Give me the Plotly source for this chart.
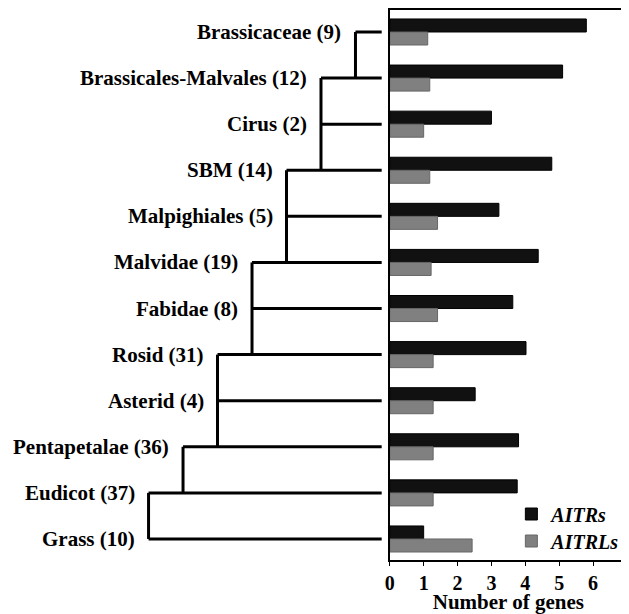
import plotly.graph_objects as go

categories = ["Brassicaceae", "Brassicales-Malvales", "Cirus", "SBM", "Malpighiales",
              "Malvidae", "Fabidae", "Rosid", "Asterid", "Pentapetalae", "Eudicot", "Grass"]
counts = [9, 12, 2, 14, 5, 19, 8, 31, 4, 36, 37, 10]
aitrs = [5.8, 5.1, 3.0, 4.78, 3.22, 4.38, 3.63, 4.02, 2.52, 3.8, 3.76, 1.0]
aitrls = [1.12, 1.18, 1.0, 1.18, 1.41, 1.22, 1.41, 1.28, 1.28, 1.28, 1.28, 2.43]
# tree: level where each leaf's horizontal branch starts, and vertical joins (level, from row, to row)
leaf_level = [6, 5, 5, 4, 4, 3, 3, 2, 2, 1, 0, 0]
joins = [(6, 0, 1), (5, 1, 3), (4, 3, 5), (3, 5, 7), (2, 7, 9), (1, 9, 10), (0, 10, 11)]
TIP = 6.76
x_ticks = [0, 1, 2, 3, 4, 5, 6, 7]

OFF = 8  # page body margin
W, H = 629 - OFF, 614 - OFF
FONT = "Liberation Serif"


def fx(X):
    return (X - OFF) / W


def fy(Y):
    return (H - (Y - OFF)) / H


fig = go.Figure()
fig.add_trace(go.Bar(y=categories, x=aitrs, orientation="h", name="<b><i>AITRs</i></b>",
                     legend="legend",
                     marker=dict(color="#111111", line=dict(color="#000000", width=1))))
fig.add_trace(go.Bar(y=categories, x=aitrls, orientation="h", name="<b><i>AITRLs</i></b>",
                     legend="legend2",
                     marker=dict(color="#808080", line=dict(color="#666666", width=1))))

# dendrogram lines
tx, ty = [], []
for cat, lvl in zip(categories, leaf_level):
    tx += [lvl, TIP, None]
    ty += [cat, cat, None]
for lvl, a, b in joins:
    tx += [lvl, lvl, None]
    ty += [categories[a], categories[b], None]
fig.add_trace(go.Scatter(x=tx, y=ty, mode="lines", xaxis="x2", yaxis="y",
                         line=dict(color="black", width=3), showlegend=False,
                         hoverinfo="skip"))

annotations = []
for cat, n, lvl in zip(categories, counts, leaf_level):
    annotations.append(dict(x=lvl, y=cat, xref="x2", yref="y", text=f"<b>{cat} ({n})</b>",
                            showarrow=False, xanchor="right", yanchor="middle", xshift=-12,
                            font=dict(family=FONT, size=21, color="black")))

legend_common = dict(xanchor="left", yanchor="middle", bgcolor="rgba(0,0,0,0)",
                     font=dict(family=FONT, size=20, color="black"))

px_per_lvl = 34.6
fig.update_layout(
    width=W, height=H, margin=dict(l=0, r=0, t=0, b=0),
    paper_bgcolor="white", plot_bgcolor="white",
    barmode="group", bargap=0.435, bargroupgap=0,
    font=dict(family=FONT, color="black"),
    xaxis=dict(domain=[fx(391), fx(629)], range=[0, 7], tickvals=x_ticks,
               showline=True, linecolor="black", linewidth=2, mirror=True,
               ticks="outside", ticklen=4, tickcolor="black", showgrid=False, zeroline=False,
               tickfont=dict(family=FONT, size=20, color="black", weight="bold"), anchor="y",
               ticklabeloverflow="allow",
               title=dict(text="<b>Number of genes</b>", standoff=4,
                          font=dict(family=FONT, size=21, color="black")),
               automargin=False),
    xaxis2=dict(domain=[0, fx(391)], range=[-(149 - OFF) / px_per_lvl, (391 - 149) / px_per_lvl],
                visible=False, anchor="y"),
    yaxis=dict(domain=[fy(560), fy(10)], range=[11.456, -0.477],
               categoryorder="array", categoryarray=categories,
               showline=True, linecolor="black", linewidth=2, mirror=True,
               showticklabels=False, ticks="", showgrid=False, zeroline=False),
    legend=dict(x=fx(513), y=fy(514), **legend_common),
    legend2=dict(x=fx(513), y=fy(541), **legend_common),
    annotations=annotations,
)

fig.write_html("out.html")
